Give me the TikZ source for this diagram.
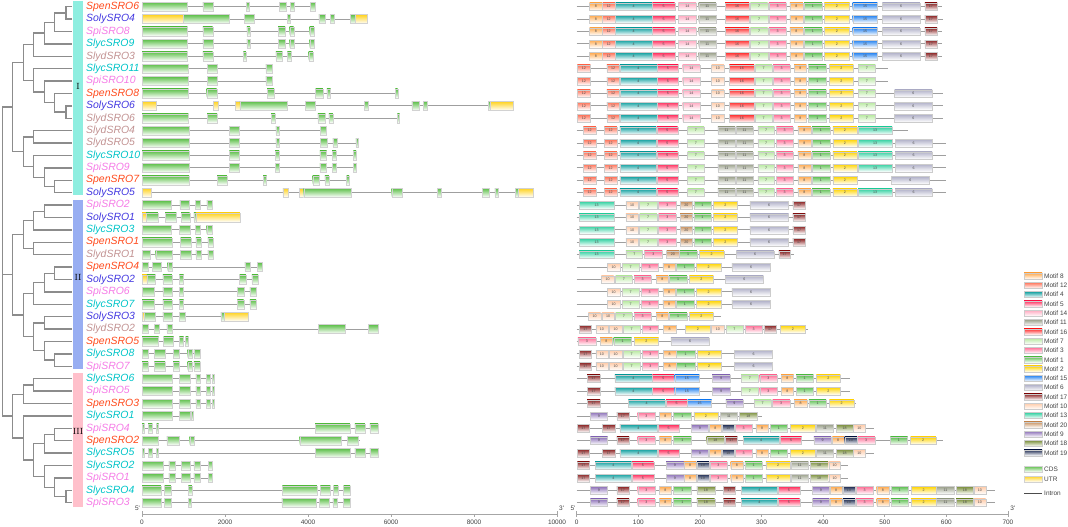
\documentclass[tikz,border=0pt]{standalone}
\usepackage{fontspec}
\newfontfamily\labelfont{Liberation Sans}

% species colours
\definecolor{spen}{HTML}{FF4A1C}
\definecolor{soly}{HTML}{4338E0}
\definecolor{spi}{HTML}{F57BE6}
\definecolor{slyc}{HTML}{00C4C8}
\definecolor{slyd}{HTML}{C29292}
\definecolor{grpI}{HTML}{8EEEE0}
\definecolor{grpII}{HTML}{98AEF2}
\definecolor{grpIII}{HTML}{FFC0CB}
% exon colours
\definecolor{exc}{HTML}{5CBF48}
\definecolor{exu}{HTML}{FFD21E}
% motif colours
\definecolor{mot1}{HTML}{5CC050}
\definecolor{mot2}{HTML}{FFD400}
\definecolor{mot3}{HTML}{FF6E96}
\definecolor{mot4}{HTML}{10A0A0}
\definecolor{mot5}{HTML}{FF2A5A}
\definecolor{mot6}{HTML}{B0B0C8}
\definecolor{mot7}{HTML}{B6E89E}
\definecolor{mot8}{HTML}{FFA94D}
\definecolor{mot9}{HTML}{8C70B8}
\definecolor{mot10}{HTML}{FFCBA8}
\definecolor{mot11}{HTML}{9AA08A}
\definecolor{mot12}{HTML}{FF7055}
\definecolor{mot13}{HTML}{30D0A0}
\definecolor{mot14}{HTML}{FFA8C0}
\definecolor{mot15}{HTML}{2080F0}
\definecolor{mot16}{HTML}{FF2A2A}
\definecolor{mot17}{HTML}{8B2020}
\definecolor{mot18}{HTML}{7A8F3A}
\definecolor{mot19}{HTML}{1A2850}
\definecolor{mot20}{HTML}{C8905C}

\tikzset{
  branch/.style={draw=gray!90, line width=1.3bp},
  gene label/.style={anchor=west, inner sep=0pt, font=\labelfont\itshape\fontsize{10.5}{12}\selectfont},
  group bar/.style={fill=#1, draw=none},
  group name/.style={inner sep=0pt, font=\fontsize{9}{10}\selectfont},
  intron/.style={draw=gray!75, line width=0.8bp},
  exon/.style={draw=gray!35, line width=0.3bp, top color=ex#1, bottom color=white},
  motif/.style={draw=gray!40, line width=0.3bp, top color=mot#1, bottom color=white},
  motif num/.style={inner sep=0pt, font=\labelfont\fontsize{3.6}{4}\selectfont, text=black!70},
  axis/.style={draw=gray!70, line width=0.6bp},
  tick label/.style={inner sep=0pt, font=\labelfont\fontsize{6.5}{7}\selectfont, text=black!75},
  legend text/.style={anchor=west, inner sep=0pt, font=\labelfont\fontsize{6.5}{7}\selectfont, text=black!75}
}

% clade: node x, first child y, its x, second child y, its x (y counted down from the top)
\newcommand{\clade}[5]{\draw[branch] (#3,-#2) -- (#1,-#2) -- (#1,-#4) -- (#5,-#4);}
% gene structure: row, last base, list of start/end/type
\newcommand{\generow}[3]{%
  \pgfmathsetmacro\ry{-(6.7+12.4*#1)}
  \draw[intron] (0,\ry) -- (#2,\ry);
  \foreach \a/\b/\t in {#3} \path[exon=\t] (\a,\ry+4.5) rectangle (\b,\ry-4.5);
}
% motif row: row, protein length, list of start/end/motif
\newcommand{\motifrow}[3]{%
  \pgfmathsetmacro\ry{-(6.7+12.4*#1)}
  \draw[intron] (0,\ry) -- (#2,\ry);
  \foreach \a/\b/\m [count=\k] in #3 {
    \path[motif=\m] (\a,\ry+3.8) rectangle (\b,\ry-3.8);
    \node[motif num] (m#1-\k) at ({(\a+\b)/2},\ry) {\m};
  }
}

% motif layouts (aa)
\def\layA{21/41/8, 42/62/12, 63/122/4, 123/159/5, 165/194/14, 198/226/11, 241/280/16, 282/310/7, 312/340/3, 346/367/8, 369/398/1, 402/443/2, 448/488/15, 496/557/6, 565/585/17}
\def\layB{1/22/12, 49/69/12, 70/130/4, 131/165/5, 172/200/14, 219/239/10, 248/288/16, 290/317/7, 319/346/3, 353/373/8, 376/405/1, 410/449/2, 457/485/7}
\def\layC{1/22/12, 49/69/12, 70/130/4, 131/165/5, 172/200/14, 219/239/10, 248/288/16, 290/317/7, 319/346/3, 353/373/8, 376/405/1, 410/449/2, 457/485/7, 516/577/6}
\def\layD{11/31/12, 45/65/12, 70/129/4, 130/164/5, 180/207/7, 229/257/11, 259/286/11, 294/321/7, 324/351/3, 359/380/8, 382/411/1, 416/455/2, 457/512/13}
\def\layE{11/31/12, 45/65/12, 70/129/4, 130/164/5, 180/207/7, 229/257/11, 259/286/11, 294/321/7, 324/351/3, 359/380/8, 382/411/1, 416/455/2, 457/512/13, 517/577/6}
\def\layF{11/31/12, 45/65/12, 70/129/4, 130/164/5, 180/207/7, 229/257/11, 259/286/11, 294/321/7, 324/351/3, 359/380/8, 382/411/1, 416/455/2, 511/572/6}
\def\layG{4/61/13, 80/100/10, 102/130/7, 133/161/3, 168/188/20, 190/218/1, 222/261/2, 281/344/6, 351/371/17}
\def\layH{4/61/13, 80/107/7, 110/139/3, 146/166/20, 167/195/1, 199/239/2, 259/320/6, 328/347/17}
\def\layI{50/70/10, 74/101/7, 104/133/3, 140/160/8, 161/190/1, 194/234/2, 252/314/6}
\def\layJ{40/60/10, 63/90/7, 93/121/3, 129/149/8, 150/179/1, 183/222/2, 241/303/6}
\def\layK{19/39/10, 41/61/10, 63/90/7, 93/121/3, 129/149/8, 150/179/1, 183/222/2}
\def\layL{4/24/17, 31/51/10, 53/73/10, 75/103/7, 106/133/3, 141/161/8, 176/217/2, 219/239/10, 242/270/7, 273/301/3, 304/324/17, 331/371/2}
\def\layM{2/31/3, 38/58/8, 60/89/1, 93/133/2, 153/215/6}
\def\layN{4/24/17, 31/51/10, 53/73/10, 75/103/7, 106/133/3, 141/161/8, 162/192/1, 195/235/2, 256/318/6}
\def\layO{17/38/17, 62/122/4, 123/158/5, 159/199/15, 220/249/9, 267/295/7, 297/325/3, 332/352/8, 356/384/1, 389/428/2}
\def\layP{17/38/17, 84/143/4, 145/179/5, 180/219/15, 242/270/9, 288/316/7, 318/346/3, 353/374/8, 377/405/1, 410/450/2}
\def\layQ{22/50/9, 65/85/17, 99/127/3, 134/154/8, 157/186/1, 190/229/2, 233/261/11, 264/293/18}
\def\layR{1/21/17, 42/62/17, 70/130/4, 132/166/5, 186/214/9, 215/235/8, 236/256/19, 257/285/3, 291/311/8, 314/342/1, 347/387/2, 389/417/11, 421/449/18, 449/469/10}
\def\layS{22/50/9, 65/85/17, 99/127/3, 134/154/8, 157/186/1, 211/239/18, 241/261/17, 270/329/4, 331/365/5, 385/413/9, 415/434/8, 435/455/19, 456/484/3, 509/537/1, 542/583/2}
\def\layT{1/21/17, 30/89/4, 90/125/5, 145/174/9, 174/194/8, 195/215/19, 216/244/3, 250/270/8, 273/301/1, 307/347/2, 348/376/11, 379/408/18, 409/428/10}
\def\layU{22/50/9, 65/85/17, 99/127/3, 134/154/8, 157/186/1, 195/224/18, 238/258/17, 267/326/4, 327/362/5, 383/410/9, 411/431/8, 432/452/19, 453/482/3, 487/507/8, 510/538/1, 543/583/2, 584/613/11, 616/644/18, 645/664/10}

\begin{document}
\begin{tikzpicture}[x=1bp, y=1bp]
  \useasboundingbox (0,-527) rectangle (1068,0);

  % tree, group I
  \clade{66}{6.7}{72}{19.1}{72}
  \clade{54.3}{12.9}{66}{31.5}{72}
  \clade{44.3}{22.2}{54.3}{43.9}{72}
  \clade{33.3}{33.05}{44.3}{56.3}{72}
  \clade{66}{105.9}{72}{118.3}{72}
  \clade{54.3}{93.5}{72}{112.1}{66}
  \clade{44.3}{81.1}{72}{102.8}{54.3}
  \clade{33.3}{68.7}{72}{91.95}{44.3}
  \clade{23.3}{44.7}{33.3}{80.3}{33.3}
  \clade{33.3}{130.7}{72}{143.1}{72}
  \clade{54.3}{180.3}{72}{192.7}{72}
  \clade{44.3}{167.9}{72}{186.5}{54.3}
  \clade{33.3}{155.5}{72}{177.2}{44.3}
  \clade{23.3}{136.9}{33.3}{166.35}{33.3}
  \clade{12.7}{62.5}{23.3}{151.6}{23.3}
  % group II
  \clade{44.3}{205.1}{72}{217.5}{72}
  \clade{33.3}{211.3}{44.3}{229.9}{72}
  \clade{33.3}{242.3}{72}{254.7}{72}
  \clade{23.3}{220.6}{33.3}{248.5}{33.3}
  \clade{54.3}{267.1}{72}{279.5}{72}
  \clade{44.3}{273.3}{54.3}{291.9}{72}
  \clade{33.3}{282.6}{44.3}{304.3}{72}
  \clade{44.3}{316.7}{72}{329.1}{72}
  \clade{54.3}{353.9}{72}{366.3}{72}
  \clade{44.3}{341.5}{72}{360.1}{54.3}
  \clade{33.3}{322.9}{44.3}{350.8}{44.3}
  \clade{23.3}{293.45}{33.3}{336.85}{33.3}
  \clade{12.7}{234.55}{23.3}{315.15}{23.3}
  % group III
  \clade{33.3}{378.7}{72}{391.1}{72}
  \clade{23.3}{384.9}{33.3}{403.5}{72}
  \clade{54.3}{428.3}{72}{440.7}{72}
  \clade{44.3}{434.5}{54.3}{453.1}{72}
  \clade{66}{490.3}{72}{502.7}{72}
  \clade{54.3}{477.9}{72}{496.5}{66}
  \clade{44.3}{465.5}{72}{487.2}{54.3}
  \clade{33.3}{443.8}{44.3}{476.35}{44.3}
  \clade{23.3}{415.9}{72}{460.1}{33.3}
  \clade{12.7}{394.2}{23.3}{438}{23.3}
  % root
  \clade{2.7}{107.1}{12.7}{416.1}{12.7}
  \draw[branch] (2.7,-274.85) -- (12.7,-274.85);

  % group bars
  \path[group bar=grpI] (73,-1.5) rectangle (82.5,-195);
  \path[group bar=grpII] (73,-200) rectangle (82.5,-369);
  \path[group bar=grpIII] (73,-373) rectangle (82.5,-507);
  \node[group name] (grI) at (78,-86) {I};
  \node[group name] (grII) at (78,-277) {II};
  \node[group name] (grIII) at (78,-431) {III};

  % gene names
  \foreach \i/\name/\sp in {0/SpenSRO6/spen, 1/SolySRO4/soly, 2/SpiSRO8/spi, 3/SlycSRO9/slyc,
      4/SlydSRO3/slyd, 5/SlycSRO11/slyc, 6/SpiSRO10/spi, 7/SpenSRO8/spen, 8/SolySRO6/soly,
      9/SlydSRO6/slyd, 10/SlydSRO4/slyd, 11/SlydSRO5/slyd, 12/SlycSRO10/slyc, 13/SpiSRO9/spi,
      14/SpenSRO7/spen, 15/SolySRO5/soly, 16/SpiSRO2/spi, 17/SolySRO1/soly, 18/SlycSRO3/slyc,
      19/SpenSRO1/spen, 20/SlydSRO1/slyd, 21/SpenSRO4/spen, 22/SolySRO2/soly, 23/SpiSRO6/spi,
      24/SlycSRO7/slyc, 25/SolySRO3/soly, 26/SlydSRO2/slyd, 27/SpenSRO5/spen, 28/SlycSRO8/slyc,
      29/SpiSRO7/spi, 30/SlycSRO6/slyc, 31/SpiSRO5/spi, 32/SpenSRO3/spen, 33/SlycSRO1/slyc,
      34/SpiSRO4/spi, 35/SpenSRO2/spen, 36/SlycSRO5/slyc, 37/SlycSRO2/slyc, 38/SpiSRO1/spi,
      39/SlycSRO4/slyc, 40/SpiSRO3/spi}
    \node[gene label, text=\sp] (\name) at (86, {-(6.7+12.4*\i)}) {\name};

  % gene structures (bp)
  \begin{scope}[xshift=142bp, x=0.0415bp]
    \generow{0}{4160}{0/1096/c, 1464/1704/c, 2512/2584/c, 3312/3472/c, 3576/3672/c, 4056/4160/c}
    \generow{1}{5424}{0/1000/u, 1000/2088/c, 2464/2704/c, 3504/3576/c, 4264/4424/c, 4536/4632/c, 5016/5136/c, 5136/5424/u}
    \generow{2}{4144}{0/1096/c, 1464/1704/c, 2528/2600/c, 3280/3448/c, 3560/3656/c, 4040/4144/c}
    \generow{3}{4144}{0/1096/c, 1464/1704/c, 2528/2600/c, 3280/3448/c, 3560/3656/c, 4040/4144/c}
    \generow{4}{4120}{0/1096/c, 1464/1704/c, 2440/2504/c, 3224/3384/c, 3504/3600/c, 4016/4120/c}
    \generow{5}{3144}{0/1120/c, 1568/1808/c, 2984/3144/c}
    \generow{6}{3144}{0/1120/c, 1568/1808/c, 2984/3144/c}
    \generow{7}{6160}{0/1120/c, 1560/1800/c, 3016/3184/c, 4184/4360/c, 4456/4544/c, 6104/6160/c}
    \generow{8}{8936}{0/336/u, 1720/1840/u, 2248/2360/u, 2360/3488/c, 3936/4176/c, 5352/5448/c, 6504/6680/c, 6776/6864/c, 8344/8400/c, 8400/8936/u}
    \generow{9}{6208}{0/1120/c, 1568/1808/c, 3112/3208/c, 4240/4416/c, 4504/4600/c, 6152/6208/c}
    \generow{10}{4448}{0/1136/c, 2104/2344/c, 3224/3312/c, 4304/4448/c}
    \generow{11}{5208}{0/1136/c, 2104/2344/c, 3224/3312/c, 4304/4464/c, 4600/4696/c, 5152/5208/c}
    \generow{12}{5160}{0/1136/c, 2104/2344/c, 3208/3304/c, 4288/4448/c, 4584/4680/c, 5096/5160/c}
    \generow{13}{5160}{0/1136/c, 2104/2344/c, 3208/3304/c, 4288/4448/c, 4584/4680/c, 5096/5160/c}
    \generow{14}{4992}{0/1136/c, 1808/2048/c, 2920/3000/c, 4112/4272/c, 4408/4504/c, 4928/4992/c}
    \generow{15}{9432}{0/232/u, 3392/3512/u, 3784/3896/u, 3896/5048/c, 6016/6264/c, 7120/7216/c, 8200/8360/c, 8504/8592/c, 9000/9064/c, 9064/9432/u}
    \generow{16}{1690}{0/700/c, 915/1130/c, 1280/1400/c, 1565/1690/c}
    \generow{17}{2360}{0/100/u, 100/380/c, 560/830/c, 940/1150/c, 1250/1300/c, 1300/2360/u}
    \generow{18}{1690}{0/700/c, 900/1150/c, 1280/1400/c, 1560/1690/c}
    \generow{19}{1710}{0/720/c, 930/1180/c, 1300/1420/c, 1590/1710/c}
    \generow{20}{1710}{0/200/c, 330/720/c, 930/1180/c, 1300/1420/c, 1590/1710/c}
    \generow{21}{2900}{0/150/c, 250/460/c, 620/720/c, 2480/2600/c, 2780/2900/c}
    \generow{22}{2800}{0/120/u, 120/320/c, 500/720/c, 900/1000/c, 2350/2500/c, 2650/2800/c}
    \generow{23}{2750}{0/300/c, 500/720/c, 900/1000/c, 2300/2450/c, 2600/2750/c}
    \generow{24}{2750}{0/300/c, 500/720/c, 900/1000/c, 2300/2450/c, 2600/2750/c}
    \generow{25}{2550}{0/60/u, 60/320/c, 500/720/c, 900/1050/c, 1900/1980/c, 1980/2550/u}
    \generow{26}{5680}{0/150/c, 300/420/c, 600/720/c, 4250/4900/c, 5450/5680/c}
    \generow{27}{1120}{0/400/c, 520/760/c, 900/1000/c, 1050/1120/c}
    \generow{28}{1400}{0/150/c, 300/560/c, 750/900/c, 1100/1200/c, 1250/1400/c}
    \generow{29}{1400}{0/150/c, 300/560/c, 750/900/c, 1100/1200/c, 1250/1400/c}
    \generow{30}{1750}{0/720/c, 900/1150/c, 1300/1400/c, 1550/1650/c, 1700/1750/c}
    \generow{31}{1750}{0/720/c, 900/1150/c, 1300/1400/c, 1550/1650/c, 1700/1750/c}
    \generow{32}{1750}{0/720/c, 900/1150/c, 1300/1400/c, 1550/1650/c, 1700/1750/c}
    \generow{33}{1230}{0/720/c, 900/1150/c, 1180/1230/c}
    \generow{34}{5700}{0/60/c, 150/250/c, 350/400/c, 4170/5010/c, 5130/5370/c, 5490/5690/c}
    \generow{35}{5250}{0/400/c, 600/900/c, 1150/1250/c, 3800/4800/c, 4950/5200/c}
    \generow{36}{5700}{0/60/c, 150/250/c, 350/400/c, 4170/5010/c, 5130/5370/c, 5490/5690/c}
    \generow{37}{1690}{0/520/c, 650/800/c, 950/1150/c, 1250/1400/c, 1600/1690/c}
    \generow{38}{1690}{0/520/c, 650/800/c, 950/1150/c, 1250/1400/c, 1600/1690/c}
    \generow{39}{5016}{0/456/c, 544/696/c, 1120/1200/c, 3384/4216/c, 4296/4536/c, 4616/4728/c, 4856/5016/c}
    \generow{40}{5016}{0/456/c, 544/696/c, 1120/1184/c, 3368/4200/c, 4280/4520/c, 4600/4712/c, 4856/5016/c}
    % axis
    \draw[axis] (0,-511) -- (0,-514) -- (10000,-514) -- (10000,-511);
    \foreach \t in {0,2000,...,10000} {
      \draw[axis] (\t,-514) -- (\t,-516.5);
      \node[tick label] (gt\t) at (\t,-522.5) {\t};
    }
    \node[tick label] (g5) at (-110,-508) {5'};
    \node[tick label] (g3) at (10110,-508) {3'};
  \end{scope}

  % conserved motifs (aa)
  \begin{scope}[xshift=576.7bp, x=0.616bp]
    \motifrow{0}{593}{\layA}
    \motifrow{1}{594}{\layA}
    \motifrow{2}{593}{\layA}
    \motifrow{3}{593}{\layA}
    \motifrow{4}{593}{\layA}
    \motifrow{5}{506}{\layB}
    \motifrow{6}{506}{\layB}
    \motifrow{7}{595}{\layC}
    \motifrow{8}{595}{\layC}
    \motifrow{9}{595}{\layC}
    \motifrow{10}{538}{\layD}
    \motifrow{11}{600}{\layE}
    \motifrow{12}{600}{\layE}
    \motifrow{13}{600}{\layE}
    \motifrow{14}{600}{\layF}
    \motifrow{15}{600}{\layE}
    \motifrow{16}{373}{\layG}
    \motifrow{17}{373}{\layG}
    \motifrow{18}{373}{\layG}
    \motifrow{19}{373}{\layG}
    \motifrow{20}{352}{\layH}
    \motifrow{21}{314}{\layI}
    \motifrow{22}{303}{\layJ}
    \motifrow{23}{314}{\layI}
    \motifrow{24}{314}{\layI}
    \motifrow{25}{234}{\layK}
    \motifrow{26}{376}{\layL}
    \motifrow{27}{217}{\layM}
    \motifrow{28}{319}{\layN}
    \motifrow{29}{319}{\layN}
    \motifrow{30}{443}{\layO}
    \motifrow{31}{443}{\layO}
    \motifrow{32}{454}{\layP}
    \motifrow{33}{300}{\layQ}
    \motifrow{34}{483}{\layR}
    \motifrow{35}{594}{\layS}
    \motifrow{36}{483}{\layR}
    \motifrow{37}{441}{\layT}
    \motifrow{38}{441}{\layT}
    \motifrow{39}{679}{\layU}
    \motifrow{40}{679}{\layU}
    % axis
    \draw[axis] (0,-511) -- (0,-514) -- (700,-514) -- (700,-511);
    \foreach \t in {0,100,...,700} {
      \draw[axis] (\t,-514) -- (\t,-516.5);
      \node[tick label] (mt\t) at (\t,-522.5) {\t};
    }
    \node[tick label] (m5) at (-6,-508) {5'};
    \node[tick label] (m3) at (708,-508) {3'};
  \end{scope}

  % legend
  \foreach \m [count=\k from 0] in {8,12,4,5,14,11,16,7,3,1,2,15,6,17,10,13,20,9,18,19} {
    \path[motif=\m] (1024,{-(276+9.3*\k-3)}) rectangle (1042,{-(276+9.3*\k+3)});
    \node[legend text] (leg\m) at (1044,{-(276+9.3*\k)}) {Motif \m};
  }
  \path[exon=c] (1024,-466) rectangle (1042,-472);
  \node[legend text] (legcds) at (1044,-469) {CDS};
  \path[exon=u] (1024,-476) rectangle (1042,-482);
  \node[legend text] (legutr) at (1044,-479) {UTR};
  \coordinate (intronL) at (1024,-493);
  \coordinate (intronR) at (1042,-493);
  \draw[draw=black!70, line width=1bp] (intronL) -- (intronR);
  \node[legend text] (legintron) at (1044,-493) {Intron};
\end{tikzpicture}
\end{document}
